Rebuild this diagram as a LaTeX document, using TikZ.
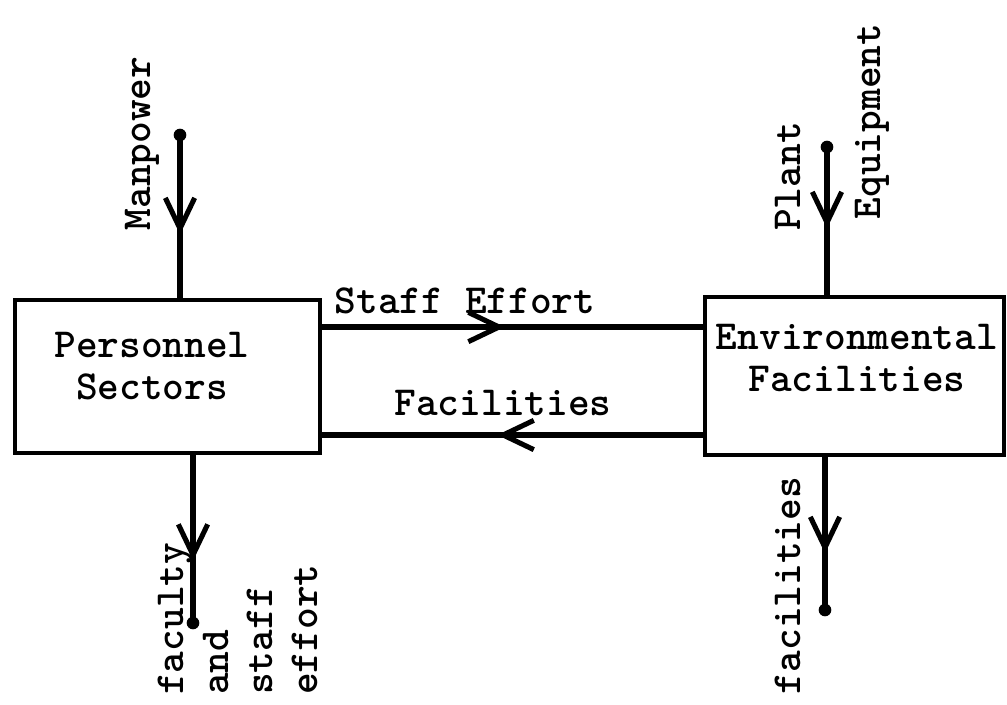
\documentclass[tikz,border=0pt]{standalone}
\usepackage{fontspec}
\usetikzlibrary{arrows.meta,decorations.markings}
\begin{document}
\begin{tikzpicture}[x=0.75pt,y=-0.75pt,
  tw/.style={font=\ttfamily\bfseries\fontsize{31}{31}\selectfont, inner sep=0pt},
  box/.style={draw,line width=3pt,inner sep=0pt},
  flow/.style={line width=3.8pt},
  midarrow/.style={postaction={decorate},decoration={markings,mark=at position #1 with {\arrow[line width=3.8pt]{Straight Barb[length=23pt,width=22pt]}}}},
  enddot/.style={circle,fill,inner sep=0pt,minimum size=9.5pt}
]
\useasboundingbox (0,0) rectangle (1007,704);

% boxes
\node[box,minimum width=228.75pt,minimum height=114.75pt] (ps) at (167.5,376.5) {};
\node[box,minimum width=224.25pt,minimum height=118.5pt] (ef) at (854.5,376) {};
\node[tw,align=center] (pst) at (152,366) {Personnel\\Sectors};
\node[tw,align=center] (eft) at (857,358) {Environmental\\Facilities};

% end points
\coordinate (mp) at (180,135);
\coordinate (fs) at (193,623);
\coordinate (pe) at (827,147);
\coordinate (fa) at (825,610);
\node[enddot] (mpd) at (mp) {};
\node[enddot] (fsd) at (fs) {};
\node[enddot] (ped) at (pe) {};
\node[enddot] (fad) at (fa) {};

% connectors
\draw[flow,midarrow=0.61] (mp) -- (mp |- ps.north);
\draw[flow,midarrow=0.63] (ps.south -| fs) -- (fs);
\draw[flow,midarrow=0.55] (pe) -- (pe |- ef.north);
\draw[flow,midarrow=0.63] (ef.south -| fa) -- (fa);
\draw[flow,midarrow=0.48] (ps.east |- 0,327) -- (ef.west |- 0,327);
\draw[flow,midarrow=0.54] (ef.west |- 0,435) -- (ps.east |- 0,435);

% labels
\node[tw,anchor=base] (sel) at (465,313) {Staff Effort};
\node[tw,anchor=base] (fcl) at (503,415) {Facilities};
\node[tw,rotate=90,anchor=base] (mpl) at (150,143.5) {Manpower};
\node[tw,rotate=90,anchor=base] (pll) at (800,176.5) {Plant};
\node[tw,rotate=90,anchor=base] (eql) at (880,121.5) {Equipment};
\node[tw,rotate=90,anchor=base] (fal) at (800,585.5) {facilities};
\node[tw,rotate=90,align=left,anchor=west,font=\ttfamily\bfseries\fontsize{31}{33.5}\selectfont] (fse) at (238,695) {faculty\\and\\staff\\effort};
\end{tikzpicture}
\end{document}
